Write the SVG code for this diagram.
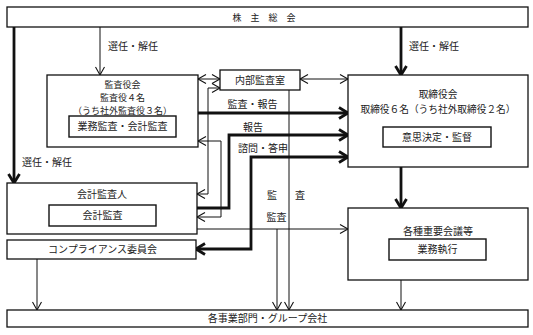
<svg xmlns="http://www.w3.org/2000/svg" width="533" height="335" viewBox="0 0 533 335">
<style>
text{font-family:"Noto Sans CJK JP","Noto Sans CJK SC",sans-serif;font-size:10px;fill:#222;text-anchor:middle}
.sm{font-size:9px}
.md{font-size:9.7px}
.box{fill:#fff;stroke:#111;stroke-width:1.3}
.in{fill:#fff;stroke:#111;stroke-width:1.4}
.thin{fill:none;stroke:#111;stroke-width:1}
.thick{fill:none;stroke:#111;stroke-width:2.8}
</style>
<defs>
<marker id="a" markerUnits="userSpaceOnUse" markerWidth="12" markerHeight="12" viewBox="-1 -6 11 12" refX="8" refY="0" orient="auto-start-reverse">
<path d="M0,-4.5 L8,0 L0,4.5" fill="none" stroke="#111" stroke-width="1.1"/>
</marker>
<marker id="b" markerUnits="userSpaceOnUse" markerWidth="14" markerHeight="14" viewBox="-2 -7 13 14" refX="9" refY="0" orient="auto-start-reverse">
<path d="M0,-5.5 L9,0 L0,5.5" fill="none" stroke="#111" stroke-width="2.8"/>
</marker>
</defs>
<g id="connectors">
<path class="thin" d="M100,27 V75" marker-end="url(#a)"/>
<path class="thick" d="M401,27 V75" marker-end="url(#b)"/>
<path class="thick" d="M14,27 V183" marker-end="url(#b)"/>
<path class="thin" d="M198,79 H220" marker-start="url(#a)" marker-end="url(#a)"/>
<path class="thin" d="M300,79 H348" marker-start="url(#a)" marker-end="url(#a)"/>
<path class="thick" d="M198,113 H348" marker-end="url(#b)"/>
<path class="thick" d="M197,208 H229 V135 H348" marker-end="url(#b)"/>
<path class="thick" d="M196,249 H251 V157 H348" marker-start="url(#b)" marker-end="url(#b)"/>
<path class="thin" d="M197,194 H208 V88 H220" marker-start="url(#a)" marker-end="url(#a)"/>
<path class="thin" d="M198,141 H221 V217 H197" marker-start="url(#a)" marker-end="url(#a)"/>
<path class="thin" d="M197,229 H348" marker-end="url(#a)"/>
<path class="thin" d="M277,229 V310" marker-end="url(#a)"/>
<path class="thin" d="M289,90 V310" marker-end="url(#a)"/>
<path class="thick" d="M401,167 V208" marker-end="url(#b)"/>
<path class="thin" d="M401,280 V310" marker-end="url(#a)"/>
<path class="thin" d="M37,259 V310" marker-end="url(#a)"/>
<text x="133" y="49.5">選任・解任</text>
<text x="434" y="49.5">選任・解任</text>
<text x="47" y="165.5">選任・解任</text>
<text x="252.5" y="107.5">監査・報告</text>
<text x="253" y="130.5">報告</text>
<text x="263" y="151.5">諮問・答申</text>
<text x="288" y="198.5" style="letter-spacing:4px">監　査</text>
<text x="276.5" y="220.5">監査</text>
</g>
<g id="shareholders">
<rect class="box" x="7" y="7" width="521" height="20"/>
<text x="232.5" y="20.5" style="text-anchor:start;font-size:9px;letter-spacing:9px">株主総会</text>
</g>
<g id="audit-board">
<rect class="box" x="47" y="75" width="151" height="72"/>
<text class="sm" x="122.5" y="87.8">監査役会</text>
<text class="sm" x="122.5" y="100.8">監査役４名</text>
<text class="sm" x="122.5" y="113.8">（うち社外監査役３名）</text>
<rect class="in" x="69" y="116" width="107" height="21"/>
<text x="122.5" y="130">業務監査・会計監査</text>
</g>
<g id="internal-audit">
<rect class="box" x="220" y="70" width="80" height="20"/>
<text x="260" y="83.5">内部監査室</text>
</g>
<g id="board">
<rect class="box" x="348" y="75" width="180" height="92"/>
<text class="md" x="438" y="98">取締役会</text>
<text class="md" x="438" y="112.5">取締役６名（うち社外取締役２名）</text>
<rect class="in" x="383" y="127" width="108" height="20"/>
<text x="437" y="140.5">意思決定・監督</text>
</g>
<g id="accounting-auditor">
<rect class="box" x="7" y="183" width="190" height="51"/>
<text x="102" y="197.5">会計監査人</text>
<rect class="in" x="49" y="205" width="107" height="21"/>
<text x="102.5" y="219">会計監査</text>
</g>
<g id="compliance">
<rect class="box" x="7" y="240" width="189" height="19"/>
<text x="102.5" y="253">コンプライアンス委員会</text>
</g>
<g id="meetings">
<rect class="box" x="348" y="208" width="180" height="72"/>
<text x="438" y="234.5">各種重要会議等</text>
<rect class="in" x="389" y="239" width="97" height="21"/>
<text x="437.5" y="253">業務執行</text>
</g>
<g id="divisions">
<rect class="box" x="7" y="310" width="521" height="17"/>
<text x="267.5" y="322">各事業部門・グループ会社</text>
</g>
</svg>
